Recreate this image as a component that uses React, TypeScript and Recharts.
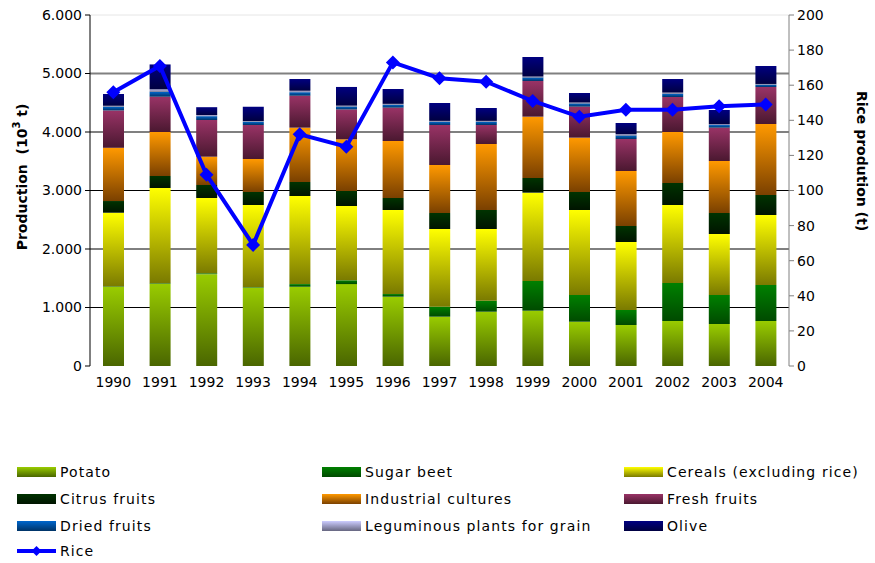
import React from 'react';
import {
    Bar,
    CartesianGrid,
    ComposedChart,
    Line,
    XAxis,
    YAxis,
} from 'recharts';

// values (10^3 t, rice in t)
const years = ['1990', '1991', '1992', '1993', '1994', '1995', '1996', '1997', '1998', '1999', '2000', '2001', '2002', '2003', '2004'];
const potato = [1350, 1410, 1570, 1340, 1355, 1400, 1185, 843, 928, 945, 757, 701, 769, 718, 769];
const sugarBeet = [10, 10, 15, 10, 45, 65, 45, 171, 188, 508, 457, 256, 650, 496, 616];
const cereals = [1260, 1623, 1287, 1402, 1506, 1270, 1437, 1328, 1226, 1510, 1453, 1163, 1333, 1042, 1196];
const citrusFruits = [200, 205, 222, 222, 239, 256, 205, 273, 325, 251, 307, 273, 376, 359, 342];
const industrialCultures = [910, 752, 484, 564, 929, 884, 974, 821, 1128, 1048, 929, 940, 872, 889, 1214];
const freshFruits = [638, 603, 627, 582, 546, 510, 570, 684, 325, 610, 530, 547, 598, 570, 632];
const driedFruits = [65, 85, 65, 55, 60, 50, 50, 55, 55, 60, 55, 60, 55, 45, 40];
const leguminous = [15, 40, 20, 15, 25, 15, 15, 15, 15, 15, 15, 20, 20, 12, 12];
const olive = [202, 427, 134, 240, 201, 320, 254, 306, 220, 335, 164, 194, 233, 245, 307];
const rice = [156, 171, 109, 69, 132, 125, 173, 164, 162, 151, 142, 146, 146, 148, 149];

const leftTicks = [0, 1000, 2000, 3000, 4000, 5000, 6000];
const rightTicks = [0, 20, 40, 60, 80, 100, 120, 140, 160, 180, 200];
const yearEdges = [0, 1, 2, 3, 4, 5, 6, 7, 8, 9, 10, 11, 12, 13, 14, 15];

const series = [
    { key: 'potato', name: 'Potato', values: potato, top: '#99cc00', bottom: '#4a6600' },
    { key: 'sugarBeet', name: 'Sugar beet', values: sugarBeet, top: '#008000', bottom: '#004a00' },
    { key: 'cereals', name: 'Cereals (excluding rice)', values: cereals, top: '#ffff00', bottom: '#7a7a00' },
    { key: 'citrus', name: 'Citrus fruits', values: citrusFruits, top: '#003300', bottom: '#001400' },
    { key: 'industrial', name: 'Industrial cultures', values: industrialCultures, top: '#ff9900', bottom: '#7a4000' },
    { key: 'fresh', name: 'Fresh fruits', values: freshFruits, top: '#993366', bottom: '#4a1830' },
    { key: 'dried', name: 'Dried fruits', values: driedFruits, top: '#0066cc', bottom: '#003366' },
    { key: 'leguminous', name: 'Leguminous plants for grain', values: leguminous, top: '#ccccff', bottom: '#666680' },
    { key: 'olive', name: 'Olive', values: olive, top: '#000080', bottom: '#000040' },
];

const data = years.map((year, i) => {
    const row: Record<string, number | string> = { year, rice: rice[i] };
    series.forEach((s) => {
        row[s.key] = s.values[i];
    });
    return row;
});

const font = '"DejaVu Sans", Verdana, sans-serif';

const formatThousands = (v: number) =>
    String(v).replace(/\B(?=(\d{3})+(?!\d))/g, '.');

const Diamond = (props: any) => {
    const { cx, cy } = props;
    if (cx == null || cy == null) return null;
    const r = 7;
    return (
        <polygon
            points={`${cx},${cy - r} ${cx + r},${cy} ${cx},${cy + r} ${cx - r},${cy}`}
            fill="#0000ff"
        />
    );
};

const AxisTitle = (props: any) => {
    const { viewBox, value, side } = props;
    if (!viewBox) return null;
    const { x, width } = viewBox;
    const cx = side === 'left' ? x + 22 : x + width - 13;
    const cy = side === 'left' ? 177 : 161;
    return (
        <text
            x={cx}
            y={cy}
            transform={`rotate(${side === 'left' ? -90 : 90}, ${cx}, ${cy})`}
            textAnchor="middle"
            dominantBaseline="central"
            fontFamily={font}
            fontSize={14}
            fontWeight="bold"
            fill="#000"
            style={{ whiteSpace: 'pre' }}
        >
            {side === 'left' ? (
                <>
                    {'Production  (10'}
                    <tspan fontSize={10} dy={-6}>3</tspan>
                    <tspan dy={6}> t)</tspan>
                </>
            ) : (
                value
            )}
        </text>
    );
};

function LegendSwatch({ top, bottom, id }: { top: string; bottom: string; id: string }) {
    return (
        <svg width={39} height={10} style={{ display: 'block' }}>
            <defs>
                <linearGradient id={id} x1="0" y1="0" x2="0" y2="1">
                    <stop offset="0%" stopColor={top} />
                    <stop offset="100%" stopColor={bottom} />
                </linearGradient>
            </defs>
            <rect x={0} y={0} width={39} height={10} fill={`url(#${id})`} />
        </svg>
    );
}

function ChartLegend() {
    return (
        <div
            style={{
                position: 'absolute',
                left: 17,
                top: 458,
                width: 858,
                display: 'grid',
                gridTemplateColumns: '305px 302px 250px',
                gridAutoRows: '27px',
                fontFamily: font,
                fontSize: 14,
                letterSpacing: '1.1px',
                color: '#000',
            }}
        >
            {series.map((s) => (
                <div key={s.key} style={{ display: 'flex', alignItems: 'center', gap: 4 }}>
                    <LegendSwatch top={s.top} bottom={s.bottom} id={`lg-${s.key}`} />
                    <span>{s.name}</span>
                </div>
            ))}
            <div style={{ display: 'flex', alignItems: 'center', gap: 4, marginTop: -3 }}>
                <svg width={39} height={14} style={{ display: 'block' }}>
                    <line x1={0} y1={7} x2={39} y2={7} stroke="#0000ff" strokeWidth={4} />
                    <polygon points="19.5,2 24.5,7 19.5,12 14.5,7" fill="#0000ff" />
                </svg>
                <span>Rice</span>
            </div>
        </div>
    );
}

export default function App() {
    return (
        <div style={{ position: 'absolute', left: 0, top: 0, width: 875, height: 563, background: '#fff' }}>
            <ComposedChart
                width={875}
                height={563}
                data={data}
                margin={{ top: 15, right: 0, bottom: 167, left: 0 }}
                barSize={21}
                style={{ fontFamily: font }}
            >
                <defs>
                    {series.map((s) => (
                        <linearGradient key={s.key} id={`g-${s.key}`} x1="0" y1="0" x2="0" y2="1">
                            <stop offset="0%" stopColor={s.top} />
                            <stop offset="100%" stopColor={s.bottom} />
                        </linearGradient>
                    ))}
                </defs>
                <CartesianGrid
                    yAxisId="left"
                    vertical={false}
                    horizontalValues={[1000, 2000, 3000]}
                    stroke="#000"
                />
                <CartesianGrid
                    yAxisId="left"
                    vertical={false}
                    horizontalValues={[4000, 5000]}
                    stroke="#808080"
                    strokeWidth={2}
                />
                <CartesianGrid
                    yAxisId="left"
                    vertical={false}
                    horizontalValues={[6000]}
                    stroke="#e6e6e6"
                />
                <XAxis
                    xAxisId="edges"
                    type="number"
                    domain={[0, 15]}
                    ticks={yearEdges}
                    tick={false}
                    height={0}
                    axisLine={{ stroke: '#000' }}
                    tickLine={{ stroke: '#000' }}
                    tickSize={5}
                    allowDataOverflow
                />
                <XAxis
                    dataKey="year"
                    height={30}
                    axisLine={false}
                    tickLine={false}
                    tickSize={5}
                    tickMargin={6}
                    interval={0}
                    tick={{ fill: '#000', fontSize: 14 }}
                />
                <YAxis
                    yAxisId="left"
                    domain={[0, 6000]}
                    ticks={leftTicks}
                    width={90}
                    tickFormatter={formatThousands}
                    axisLine={{ stroke: '#000' }}
                    tickLine={{ stroke: '#000' }}
                    tickSize={5}
                    tickMargin={3}
                    tick={{ fill: '#000', fontSize: 14 }}
                    label={<AxisTitle side="left" />}
                />
                <YAxis
                    yAxisId="right"
                    orientation="right"
                    domain={[0, 200]}
                    ticks={rightTicks}
                    width={86}
                    axisLine={{ stroke: '#808080' }}
                    tickLine={{ stroke: '#808080' }}
                    tickSize={5}
                    tickMargin={3}
                    tick={{ fill: '#000', fontSize: 14 }}
                    label={<AxisTitle side="right" value="Rice prodution (t)" />}
                />
                {series.map((s) => (
                    <Bar
                        key={s.key}
                        yAxisId="left"
                        dataKey={s.key}
                        name={s.name}
                        stackId="crops"
                        fill={`url(#g-${s.key})`}
                        isAnimationActive={false}
                    />
                ))}
                <Line
                    yAxisId="right"
                    dataKey="rice"
                    name="Rice"
                    type="linear"
                    stroke="#0000ff"
                    strokeWidth={4}
                    dot={<Diamond />}
                    activeDot={false}
                    isAnimationActive={false}
                />
            </ComposedChart>
            <ChartLegend />
        </div>
    );
}
